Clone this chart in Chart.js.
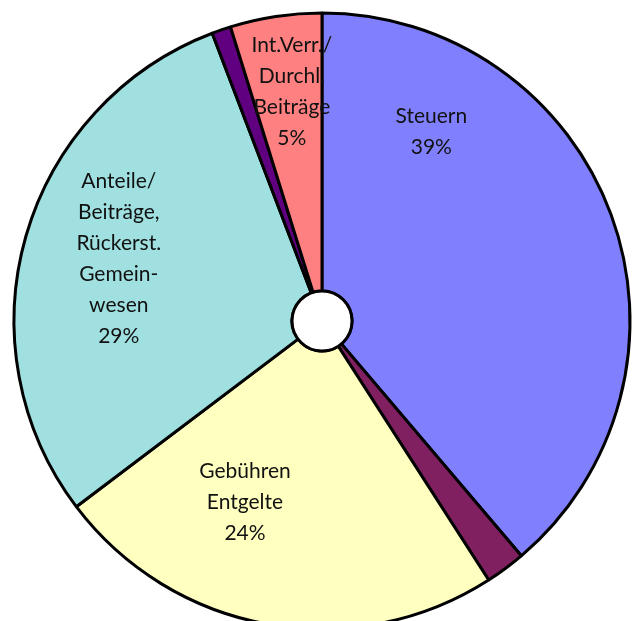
<!DOCTYPE html>
<html>
<head>
<meta charset="utf-8">
<script src="https://cdn.jsdelivr.net/npm/chart.js@4/dist/chart.umd.min.js"></script>
<style>
  html, body { margin: 0; padding: 0; background: #fff; overflow: hidden; }
  #wrap { position: relative; width: 644px; height: 642px; }
</style>
</head>
<body>
<div id="wrap"><canvas id="chart" width="644" height="642"></canvas></div>
<script>
const categories = ['Steuern', 'Sonstige', 'Gebühren Entgelte', 'Anteile/ Beiträge, Rückerst. Gemeinwesen', 'Sonstige 2', 'Int.Verr./ Durchl. Beiträge'];
const shares = [38.8, 2.1, 23.8, 29.5, 1.0, 4.8];
const sliceColors = ['#8080FF', '#802060', '#FFFFC0', '#A0E0E0', '#600080', '#FF8080'];
// label text per slice (null = no label)
const sliceLabels = [
  ['Steuern', '39%'],
  null,
  ['Gebühren', 'Entgelte', '24%'],
  ['Anteile/', 'Beiträge,', 'Rückerst.', 'Gemein-', 'wesen', '29%'],
  null,
  ['Int.Verr./', 'Durchl.', 'Beiträge', '5%']
];
// where each label sits: angle from top (deg, clockwise) and fraction of radius
const labelSpots = [
  { a: 30, r: 0.71 },
  null,
  { a: 203, r: 0.64 },
  { a: 287, r: 0.69 },
  null,
  { a: -7.5, r: 0.75 }
];

const labelPlugin = {
  id: 'sliceText',
  afterDatasetsDraw(chart) {
    const ctx = chart.ctx;
    const arcs = chart.getDatasetMeta(0).data;
    ctx.save();
    ctx.font = '21px Lato';
    ctx.fillStyle = '#111';
    ctx.textAlign = 'center';
    ctx.textBaseline = 'middle';
    arcs.forEach((arc, i) => {
      const lines = sliceLabels[i];
      if (!lines) return;
      const spot = labelSpots[i];
      const rad = spot.a * Math.PI / 180;
      const cx = arc.x + Math.sin(rad) * arc.outerRadius * spot.r;
      const cy = arc.y - Math.cos(rad) * arc.outerRadius * spot.r;
      const lh = 31;
      const top = cy - (lines.length - 1) * lh / 2;
      lines.forEach((t, k) => ctx.fillText(t, cx, top + k * lh));
    });
    ctx.restore();
  }
};

const holePlugin = {
  id: 'holeRing',
  afterDatasetsDraw(chart) {
    const arc = chart.getDatasetMeta(0).data[0];
    const ctx = chart.ctx;
    ctx.save();
    ctx.beginPath();
    ctx.arc(arc.x, arc.y, arc.innerRadius, 0, Math.PI * 2);
    ctx.fillStyle = '#fff';
    ctx.fill();
    ctx.lineWidth = 3;
    ctx.strokeStyle = '#000';
    ctx.stroke();
    ctx.restore();
  }
};

new Chart(document.getElementById('chart'), {
  type: 'doughnut',
  data: {
    labels: categories,
    datasets: [{
      data: shares,
      backgroundColor: sliceColors,
      borderColor: '#000',
      borderWidth: 3,
      borderAlign: 'center'
    }]
  },
  options: {
    responsive: false,
    animation: false,
    cutout: 30,
    layout: { padding: { left: 12.5, right: 12.5, top: 11.5, bottom: 11.5 } },
    plugins: { legend: { display: false }, tooltip: { enabled: false } }
  },
  plugins: [labelPlugin, holePlugin]
});
</script>
</body>
</html>
